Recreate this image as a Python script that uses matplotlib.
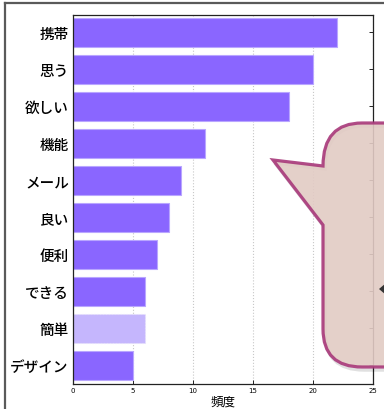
import matplotlib
matplotlib.use("Agg")
import matplotlib.pyplot as plt
from matplotlib.path import Path
from matplotlib.patches import PathPatch
from matplotlib.lines import Line2D

plt.rcParams['font.family'] = ['Noto Sans CJK JP', 'DejaVu Sans']

# data (top to bottom)
words = ["携帯", "思う", "欲しい", "機能", "メール", "良い", "便利", "できる", "簡単", "デザイン"]
freq = [22, 20, 18, 11, 9, 8, 7, 6, 6, 5]
highlight = "簡単"
xticks = [0, 5, 10, 15, 20, 25]

W, H = 384, 410
fig = plt.figure(figsize=(W / 100, H / 100), dpi=100)
ax = fig.add_axes([73 / W, 1 - 385 / H, 300 / W, 369 / H])

ypos = list(range(len(words)))
for y, w, v in zip(ypos, words, freq):
    if w == highlight:
        ax.barh(y, v, height=0.8, color="#c5b6fd", edgecolor="#e6e0fb",
                linestyle=":", linewidth=0.8, zorder=2)
    else:
        ax.barh(y, v, height=0.8, color="#8a66ff", edgecolor="#b9a6ff",
                linewidth=0.8, zorder=2)

ax.set_ylim(len(words) - 0.5, -0.47)
ax.set_xlim(0, 25)
ax.set_yticks(ypos)
ax.set_yticklabels(words, fontsize=10.5, fontweight="medium")
ax.set_xticks(xticks)
ax.set_xticklabels([str(t) for t in xticks], fontsize=5, family="DejaVu Sans")
ax.tick_params(axis="both", direction="in", length=3, width=0.6, pad=2)
ax.tick_params(axis="y", left=False, right=True, pad=3)
ax.set_xlabel("頻度", fontsize=9, labelpad=1)
ax.grid(axis="x", linestyle=":", color="#c8c8c8", linewidth=0.8, zorder=0)
ax.set_axisbelow(True)
for s in ax.spines.values():
    s.set_linewidth(0.9)
    s.set_color("#222222")

# window frame
fig.add_artist(Line2D([5 / W, 5 / W], [0, 1 - 4 / H], transform=fig.transFigure,
                      color="#5a5a5a", linewidth=1.6))
fig.add_artist(Line2D([5 / W, 1], [1 - 4 / H, 1 - 4 / H], transform=fig.transFigure,
                      color="#5a5a5a", linewidth=1.6))


# speech bubble callout (pixel coords -> figure coords)
def pts(seq, dx=0, dy=0):
    return [((x + dx) / W, 1 - (y + dy) / H) for x, y in seq]


verts = [(273, 161), (323, 167), (323, 124), (362, 124), (395, 124),
         (395, 368), (362, 368), (323, 368), (323, 330), (323, 226), (273, 161)]
codes = [Path.MOVETO, Path.LINETO, Path.CURVE3, Path.CURVE3, Path.LINETO,
         Path.LINETO, Path.LINETO, Path.CURVE3, Path.CURVE3, Path.LINETO, Path.CLOSEPOLY]

shadow = PathPatch(Path(pts(verts, 2, 3), codes), transform=fig.transFigure,
                   facecolor="none", edgecolor="#000000", linewidth=2.5,
                   alpha=0.12, zorder=5)
fig.add_artist(shadow)
bubble = PathPatch(Path(pts(verts), codes), transform=fig.transFigure,
                   facecolor="#e2cbc4", alpha=0.9,
                   edgecolor="#a8387a", linewidth=2.3, zorder=6)
fig.add_artist(bubble)
# arrow glyph peeking in from the right edge
fig.add_artist(PathPatch(Path(pts([(379, 290), (386, 284), (386, 296), (379, 290)]),
                              [Path.MOVETO, Path.LINETO, Path.LINETO, Path.CLOSEPOLY]),
                         transform=fig.transFigure, facecolor="#333333",
                         edgecolor="none", zorder=7))

fig.savefig("out.png", dpi=100)
